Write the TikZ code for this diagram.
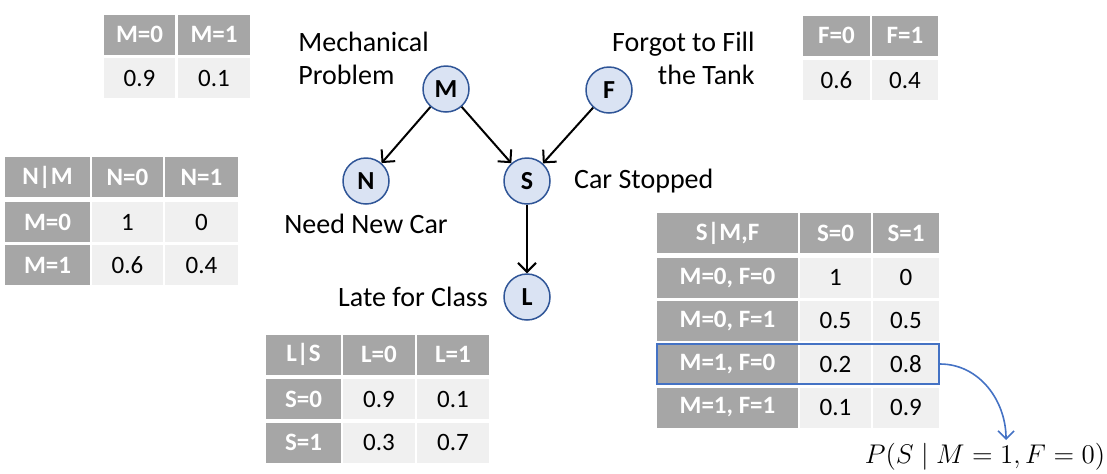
\RequirePackage{fix-cm}
\documentclass[tikz,border=0pt]{standalone}
\usepackage{amsmath}
\usepackage{fontspec}
\setmainfont{Carlito}
\usetikzlibrary{arrows.meta, positioning}
\definecolor{hdrgray}{RGB}{166,166,166}
\definecolor{cellgray}{RGB}{240,240,240}
\definecolor{nodeblue}{RGB}{218,227,243}
\definecolor{edgeblue}{RGB}{47,85,151}
\definecolor{hlblue}{RGB}{68,114,196}

\tikzset{
  var/.style={circle, draw=edgeblue, fill=nodeblue, line width=0.75pt, minimum size=23pt,
              inner sep=0pt, font=\fontsize{13}{15}\selectfont\bfseries},
  hdr/.style={fill=hdrgray, text=white, inner sep=0pt, minimum height=20pt,
              font=\fontsize{12.5}{15}\selectfont\bfseries},
  val/.style={fill=cellgray, inner sep=0pt, minimum height=20pt,
              font=\fontsize{12.5}{15}\selectfont},
  lbl/.style={inner sep=0pt, font=\fontsize{14}{16.5}\selectfont},
  edge/.style={-{Straight Barb[length=4.5pt, width=9pt]}, line width=1pt},
}

\begin{document}
\begin{tikzpicture}[x=0.5pt, y=-0.5pt]
        \useasboundingbox (0,0) rectangle (1107,473);

        % network
        \node[var] (M) at (446,89) {M};
        \node[var] (F) at (609,90) {F};
        \node[var] (N) at (366,181) {N};
        \node[var] (S) at (527,181) {S};
        \node[var] (L) at (527,297) {L};
        \draw[edge] (M) -- (N);
        \draw[edge] (M) -- (S);
        \draw[edge] (F) -- (S);
        \draw[edge] (S) -- (L);

        \node[lbl, align=left, anchor=west] (mlbl) at (298,58) {Mechanical\\Problem};
        \node[lbl, align=right, anchor=east] (flbl) at (755,58) {Forgot to Fill\\the Tank};
        \node[lbl, below=4.5pt of N] (nlbl) {Need New Car};
        \node[lbl, right=11.5pt of S] (slbl) {Car Stopped};
        \node[lbl, left=7.5pt of L] (llbl) {Late for Class};

        % P(M)
        \node[hdr, minimum width=35.5pt] (mh0) at (139.5,34.5) {M=0};
        \node[hdr, minimum width=36pt] (mh1) at (214,34.5) {M=1};
        \node[val, minimum width=35.5pt] (mv0) at (139.5,78) {0.9};
        \node[val, minimum width=36pt] (mv1) at (214,78) {0.1};

        % P(F)
        \node[hdr, minimum width=33.5pt] (fh0) at (836.5,35.5) {F=0};
        \node[hdr, minimum width=33pt] (fh1) at (905,35.5) {F=1};
        \node[val, minimum width=33.5pt] (fv0) at (836.5,80) {0.6};
        \node[val, minimum width=33pt] (fv1) at (905,80) {0.4};

        % P(N|M)
        \node[hdr, minimum width=42.5pt] (nh) at (47.5,177) {N|M};
        \node[hdr, minimum width=35.5pt] (nh0) at (127.5,177) {N=0};
        \node[hdr, minimum width=36.5pt] (nh1) at (201.5,177) {N=1};
        \node[hdr, minimum width=42.5pt] (nr0) at (47.5,222) {M=0};
        \node[val, minimum width=35.5pt] (n00) at (127.5,222) {1};
        \node[val, minimum width=36.5pt] (n01) at (201.5,222) {0};
        \node[hdr, minimum width=42.5pt] (nr1) at (47.5,265) {M=1};
        \node[val, minimum width=35.5pt] (n10) at (127.5,265) {0.6};
        \node[val, minimum width=36.5pt] (n11) at (201.5,265) {0.4};

        % P(S|M,F)
        \node[hdr, minimum width=70.5pt] (sh) at (727.5,233) {S|M,F};
        \node[hdr, minimum width=35.5pt] (sh0) at (835.5,233) {S=0};
        \node[hdr, minimum width=33pt] (sh1) at (906,233) {S=1};
        \node[hdr, minimum width=70.5pt] (sr0) at (727.5,277.5) {M=0, F=0};
        \node[val, minimum width=35.5pt] (s00) at (835.5,277.5) {1};
        \node[val, minimum width=33pt] (s01) at (906,277.5) {0};
        \node[hdr, minimum width=70.5pt] (sr1) at (727.5,320.5) {M=0, F=1};
        \node[val, minimum width=35.5pt] (s10) at (835.5,320.5) {0.5};
        \node[val, minimum width=33pt] (s11) at (906,320.5) {0.5};
        \node[hdr, minimum width=70.5pt] (sr2) at (727.5,364) {M=1, F=0};
        \node[val, minimum width=35.5pt] (s20) at (835.5,364) {0.2};
        \node[val, minimum width=33pt] (s21) at (906,364) {0.8};
        \node[hdr, minimum width=70.5pt] (sr3) at (727.5,407.5) {M=1, F=1};
        \node[val, minimum width=35.5pt] (s30) at (835.5,407.5) {0.1};
        \node[val, minimum width=33pt] (s31) at (906,407.5) {0.9};

        % P(L|S)
        \node[hdr, minimum width=37.5pt] (lh) at (303.5,354.5) {L|S};
        \node[hdr, minimum width=36pt] (lh0) at (379,354.5) {L=0};
        \node[hdr, minimum width=36pt] (lh1) at (453,354.5) {L=1};
        \node[hdr, minimum width=37.5pt] (lr0) at (303.5,399) {S=0};
        \node[val, minimum width=36pt] (l00) at (379,399) {0.9};
        \node[val, minimum width=36pt] (l01) at (453,399) {0.1};
        \node[hdr, minimum width=37.5pt] (lr1) at (303.5,442.5) {S=1};
        \node[val, minimum width=36pt] (l10) at (379,442.5) {0.3};
        \node[val, minimum width=36pt] (l11) at (453,442.5) {0.7};

        % highlighted row
        \node[draw=hlblue, line width=1pt, minimum width=141pt, minimum height=20pt,
              inner sep=0pt] (hl) at (798,364) {};
        \coordinate (tip) at (1006,440);
        \draw[hlblue, line width=0.8pt, -{Straight Barb[length=4pt, width=8pt]}]
              (hl.east) to[out=0, in=90] (tip);
        \node[anchor=base, inner sep=0pt, font=\fontsize{13.5}{15}\selectfont]
              (prob) at (985,463) {$P(S \mid M = 1, F = 0)$};
      \end{tikzpicture}
\end{document}
